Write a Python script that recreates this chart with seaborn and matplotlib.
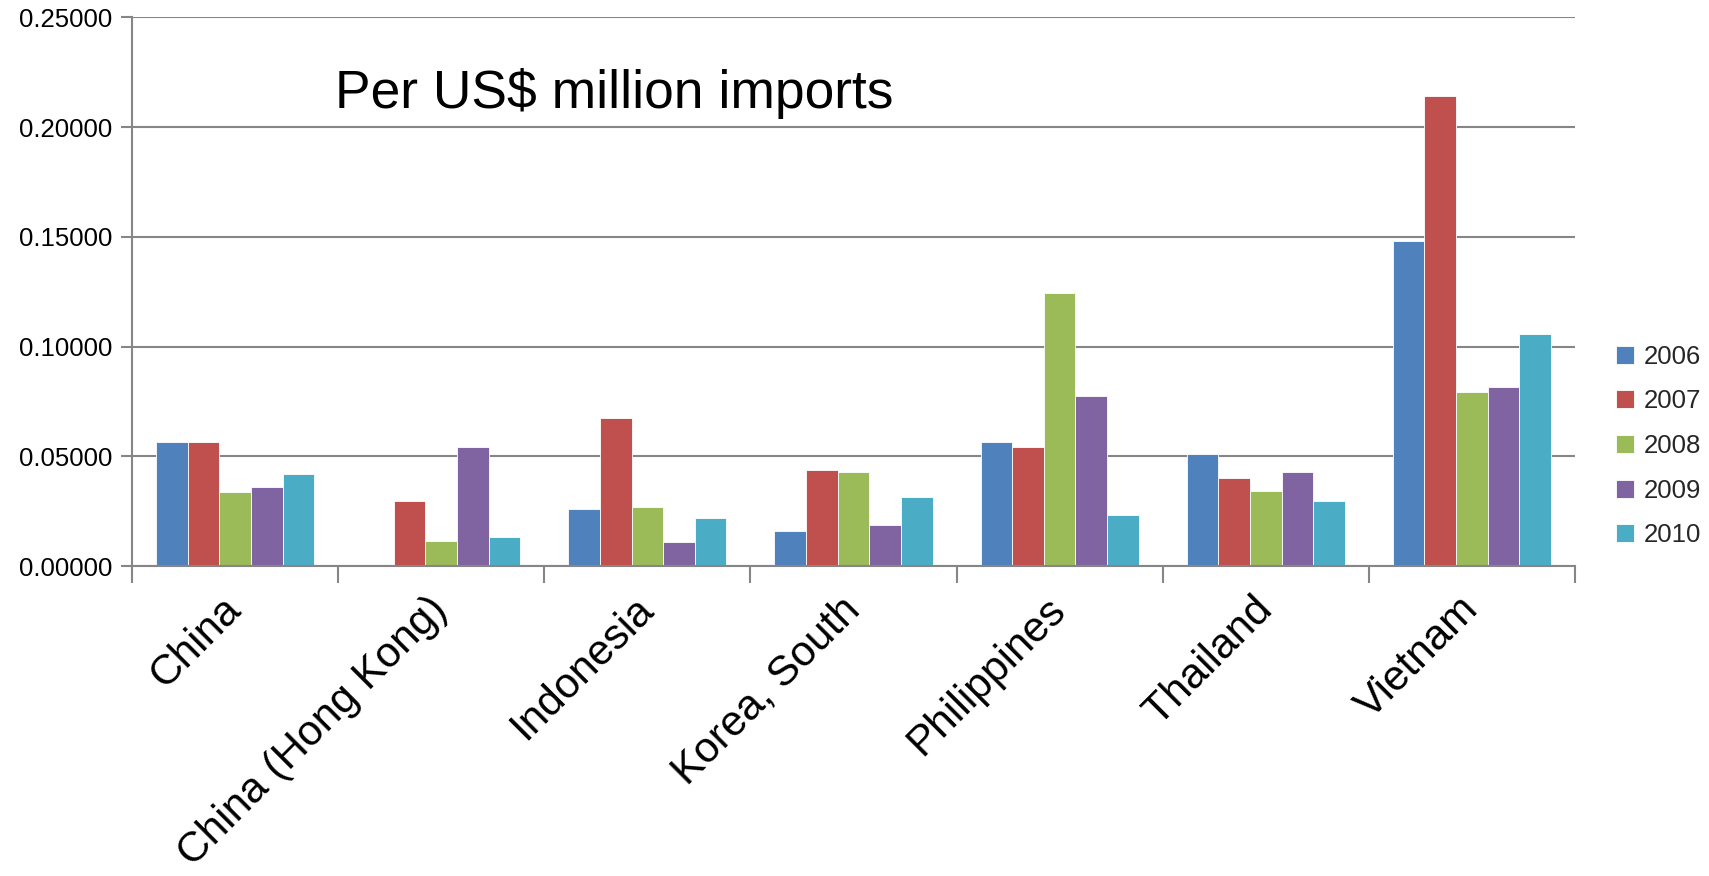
import matplotlib
matplotlib.use("Agg")
import matplotlib.pyplot as plt
import seaborn as sns
import pandas as pd
import numpy as np
from matplotlib.ticker import FixedLocator, FormatStrFormatter, NullFormatter

countries = ["China", "China (Hong Kong)", "Indonesia", "Korea, South",
             "Philippines", "Thailand", "Vietnam"]
years = ["2006", "2007", "2008", "2009", "2010"]
v2006 = [0.0567, 0.0, 0.0258, 0.0159, 0.0567, 0.0512, 0.1481]
v2007 = [0.0567, 0.0298, 0.0676, 0.0437, 0.0542, 0.0403, 0.2142]
v2008 = [0.0338, 0.0114, 0.0268, 0.0427, 0.1243, 0.0343, 0.0795]
v2009 = [0.0358, 0.0542, 0.0109, 0.0189, 0.0775, 0.0427, 0.0815]
v2010 = [0.0418, 0.0134, 0.0219, 0.0313, 0.0234, 0.0298, 0.1059]
colors = ["#4F81BD", "#C0504D", "#9BBB59", "#8064A2", "#4BACC6"]
title_text = "Per US$ million imports"

series = [v2006, v2007, v2008, v2009, v2010]
rows = []
for y, vals in zip(years, series):
    for c, v in zip(countries, vals):
        rows.append({"country": c, "year": y, "value": v})
df = pd.DataFrame(rows)

sns.set_theme(style="white")
plt.rcParams["font.family"] = ["Liberation Sans", "DejaVu Sans"]

fig = plt.figure(figsize=(17.09, 8.76), dpi=100)
ax = fig.add_axes([132 / 1709, 1 - 566 / 876, (1575 - 132) / 1709, (566 - 17.4) / 876])

sns.barplot(data=df, x="country", y="value", hue="year", order=countries,
            hue_order=years, palette=colors, width=0.767, ax=ax,
            edgecolor="white", linewidth=0.6, saturation=1, errorbar=None)

ax.set_xlim(-0.5, len(countries) - 0.5)
ax.set_ylim(0, 0.25)
ax.set_yticks(np.arange(0, 0.2501, 0.05))
ax.yaxis.set_major_formatter(FormatStrFormatter("%.5f"))
ax.grid(axis="y", color="#868686", linewidth=1.5)
ax.set_axisbelow(True)
ax.set_xlabel("")
ax.set_ylabel("")

for s in ["top", "right"]:
    ax.spines[s].set_visible(False)
for s in ["left", "bottom"]:
    ax.spines[s].set_color("#868686")
    ax.spines[s].set_linewidth(1.5)

ax.tick_params(axis="y", which="major", direction="out", length=8, width=1.5,
               color="#868686", labelsize=18.5, pad=6, labelcolor="black", left=True)
# category boundary ticks
ax.xaxis.set_minor_locator(FixedLocator(np.arange(-0.5, len(countries), 1.0)))
ax.xaxis.set_minor_formatter(NullFormatter())
ax.tick_params(axis="x", which="minor", direction="out", length=12, width=1.5,
               color="#868686", bottom=True)
ax.tick_params(axis="x", which="major", length=0, labelsize=30.5, pad=27, labelcolor="black")
for lab in ax.get_xticklabels():
    lab.set_rotation(45)
    lab.set_ha("right")
    lab.set_va("center")
    lab.set_rotation_mode("anchor")

ax.text(0.1407, 0.862, title_text, transform=ax.transAxes, fontsize=38.4,
        ha="left", va="center", color="black")

handles, labels = ax.get_legend_handles_labels()
ax.get_legend().remove()
fig.legend(handles, labels, loc="center left", bbox_to_anchor=(1606 / 1709, 1 - 446 / 876),
           frameon=False, fontsize=18.5, handlelength=0.7, handleheight=0.7,
           handletextpad=0.35, labelspacing=0.8, borderaxespad=0)

fig.savefig("out.png", dpi=100)
